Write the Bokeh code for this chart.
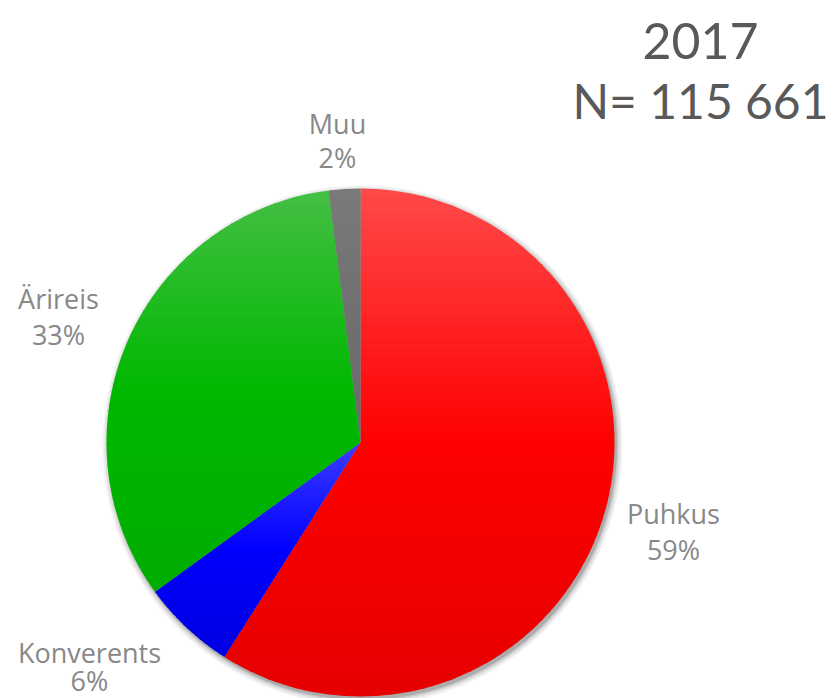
import math
from bokeh.plotting import figure
from bokeh.models import Range1d
from bokeh.core.properties import value
from bokeh.embed import file_html
from bokeh.resources import INLINE

# ---- data ----
categories = ["Puhkus", "Konverents", "Ärireis", "Muu"]
shares = [59, 6, 33, 2]
pct_labels = ["59%", "6%", "33%", "2%"]
year_label = "2017"
n_label = "N= 115 661"

# colours: (light top, base, dark bottom)
top_colors = ["#ff4a4a", "#3c3cff", "#44bf44", "#7a7a7a"]
mid_colors = ["#ff0000", "#0000ff", "#00b800", "#707070"]
bot_colors = ["#e60000", "#0000e0", "#00ad00", "#6a6a6a"]

W, H = 834, 698
p = figure(width=W, height=H, output_backend="svg", toolbar_location=None,
           x_range=Range1d(0, W), y_range=Range1d(0, H),
           min_border=0)
p.axis.visible = False
p.grid.visible = False
p.outline_line_color = None
p.background_fill_color = "white"

cx, cy, R = 360, 698 - 442, 254  # y measured upward (698 - screen y)


def hexrgb(h):
    h = h.lstrip("#")
    return [int(h[i:i + 2], 16) for i in (0, 2, 4)]


def mix(c1, c2, t):
    a, b = hexrgb(c1), hexrgb(c2)
    return "#%02x%02x%02x" % tuple(int(round(a[i] + (b[i] - a[i]) * t)) for i in range(3))


def grad(i, t):
    if t < 0.5:
        return mix(top_colors[i], mid_colors[i], t / 0.5)
    return mix(mid_colors[i], bot_colors[i], (t - 0.5) / 0.5)


def clip(pts, y0, keep_above):
    out = []
    n = len(pts)
    for k in range(n):
        a, b = pts[k], pts[(k + 1) % n]
        ina = (a[1] >= y0) if keep_above else (a[1] <= y0)
        inb = (b[1] >= y0) if keep_above else (b[1] <= y0)
        if ina:
            out.append(a)
        if ina != inb:
            t = (y0 - a[1]) / (b[1] - a[1])
            out.append((a[0] + t * (b[0] - a[0]), y0))
    return out


# shadow
for dr, al in [(6, 0.05), (4, 0.07), (2, 0.10), (0.5, 0.14)]:
    p.circle(x=[cx + 2], y=[cy - 3], radius=R + dr, fill_color="#000000",
             fill_alpha=al, line_color=None)

total = sum(shares)
start = 0.0
NB = 60
for i, s in enumerate(shares):
    a0 = start
    a1 = start + s / total * 2 * math.pi
    start = a1
    steps = max(4, int(s * 2))
    pts = [(cx, cy)]
    for j in range(steps + 1):
        a = a0 + (a1 - a0) * j / steps
        pts.append((cx + R * math.sin(a), cy + R * math.cos(a)))
    ys = [q[1] for q in pts]
    ymin, ymax = min(ys), max(ys)
    xs_list, ys_list, cols = [], [], []
    for b in range(NB):
        yt = ymax - (ymax - ymin) * b / NB
        yb = ymax - (ymax - ymin) * (b + 1) / NB
        poly = clip(clip(pts, yb - 0.6, True), yt + 0.6, False)
        if len(poly) < 3:
            continue
        xs_list.append([q[0] for q in poly])
        ys_list.append([q[1] for q in poly])
        cols.append(grad(i, (b + 0.5) / NB))
    p.patches(xs=xs_list, ys=ys_list, fill_color=cols, line_color=None)

# labels (screen positions of the two lines)
label_pos = {"Puhkus": (673, 513, 549), "Konverents": (89, 652, 680),
             "Ärireis": (58, 298, 334), "Muu": (337, 123, 157)}
for i, c in enumerate(categories):
    lx, ly1, ly2 = label_pos[c]
    p.text(x=[lx], y=[H - ly1], text=[c], text_font=value("Open Sans"),
           text_font_size="27px", text_color="#888888",
           text_align="center", text_baseline="middle")
    p.text(x=[lx], y=[H - ly2], text=[pct_labels[i]], text_font=value("Open Sans"),
           text_font_size="27px", text_color="#888888",
           text_align="center", text_baseline="middle")

p.text(x=[700], y=[H - 40], text=[year_label], text_font=value("Lato"),
       text_font_size="50px", text_color="#595959",
       text_align="center", text_baseline="middle")
p.text(x=[700], y=[H - 100], text=[n_label], text_font=value("Lato"),
       text_font_size="48px", text_color="#595959",
       text_align="center", text_baseline="middle")

open("out.html", "w").write(file_html(p, INLINE))
